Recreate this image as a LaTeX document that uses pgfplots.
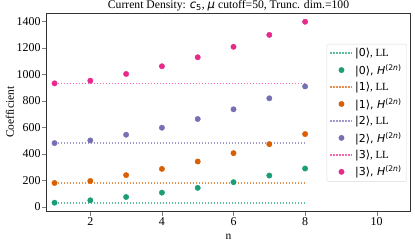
\documentclass[border=0pt]{standalone}
\usepackage{pgfplots}
\pgfplotsset{compat=1.18}
\usepackage{fontspec}
\setmainfont{Liberation Serif}
\newfontfamily\dv{DejaVu Sans}
\definecolor{cg}{HTML}{1B9E77}
\definecolor{co}{HTML}{D95F02}
\definecolor{cp}{HTML}{7570B3}
\definecolor{ck}{HTML}{E7298A}
\tikzset{lldot/.style={draw=#1!70, dash pattern=on 1.3bp off 1.7bp, line width=1.3bp}}
\begin{document}
\begin{tikzpicture}[font=\fontsize{11}{13}\selectfont]
\begin{axis}[
  name=ax,
  scale only axis, width=364.4bp, height=198bp,
  xmin=0.77, xmax=10.95, ymin=-35, ymax=1460,
  xtick={2,4,6,8,10}, xticklabels={2,4,6,8,10},
  ytick={0,200,400,600,800,1000,1200,1400},
  yticklabels={0,200,400,600,800,1000,1200,1400},
  tick align=outside, xtick pos=left, ytick pos=left,
  major tick length=4.5bp,
  tick label style={font=\fontsize{12}{14}\selectfont},
  xticklabel style={inner sep=1bp, yshift=-0.5bp},
  yticklabel style={inner sep=1bp},
  xlabel={n}, ylabel={Coefficient},
  xlabel style={font=\fontsize{11.5}{13}\selectfont, at={(axis description cs:0.5,-0.13)}, anchor=center},
  ylabel style={font=\fontsize{11.5}{13}\selectfont, at={(axis description cs:-0.1,0.5)}, anchor=center},
  every axis title shift=0pt,
  title={Current Density: {\dv\itshape c}\textsubscript{\dv 5}, {\dv\itshape μ} cutoff=50, Trunc. dim.=100},
  title style={font=\fontsize{11.7}{13}\selectfont, at={(axis description cs:0.5,1)}, anchor=base, yshift=4.3bp, inner sep=0pt},
  axis line style={black!80, line width=0.8pt},
  legend cell align=left,
  legend style={at={(0.989,0.845)}, anchor=north east, draw=black!15, rounded corners=2bp,
    font=\fontsize{11}{13}\selectfont, row sep=2.4bp, inner xsep=3bp, inner ysep=2bp},
]
\addplot[lldot=cg, forget plot] coordinates {(1,28) (8,28)};
\addplot[lldot=co, forget plot] coordinates {(1,179) (8,179)};
\addplot[lldot=cp, forget plot] coordinates {(1,480) (8,480)};
\addplot[lldot=ck, forget plot] coordinates {(1,931) (8,931)};
\addplot[only marks, mark=*, mark size=2.7bp, draw=cg, fill=cg, forget plot] coordinates {(1,30) (2,48) (3,73) (4,106) (5,142) (6,185) (7,235) (8,288)};
\addplot[only marks, mark=*, mark size=2.7bp, draw=co, fill=co, forget plot] coordinates {(1,179) (2,194) (3,238) (4,285) (5,341) (6,404) (7,472) (8,548)};
\addplot[only marks, mark=*, mark size=2.7bp, draw=cp, fill=cp, forget plot] coordinates {(1,480) (2,500) (3,543) (4,596) (5,662) (6,735) (7,818) (8,908)};
\addplot[only marks, mark=*, mark size=2.7bp, draw=ck, fill=ck, forget plot] coordinates {(1,931) (2,951) (3,1002) (4,1060) (5,1128) (6,1207) (7,1297) (8,1396)};
\addlegendimage{legend image code/.code={\draw[lldot=cg] (0,0) -- (22bp,0);}}
\addlegendentry{{\dv |0⟩}, LL}
\addlegendimage{legend image code/.code={\fill[cg] (11bp,0) circle (2.7bp);}}
\addlegendentry{{\dv |0⟩, \itshape H}\textsuperscript{\dv (2\itshape n\upshape )}}
\addlegendimage{legend image code/.code={\draw[lldot=co] (0,0) -- (22bp,0);}}
\addlegendentry{{\dv |1⟩}, LL}
\addlegendimage{legend image code/.code={\fill[co] (11bp,0) circle (2.7bp);}}
\addlegendentry{{\dv |1⟩, \itshape H}\textsuperscript{\dv (2\itshape n\upshape )}}
\addlegendimage{legend image code/.code={\draw[lldot=cp] (0,0) -- (22bp,0);}}
\addlegendentry{{\dv |2⟩}, LL}
\addlegendimage{legend image code/.code={\fill[cp] (11bp,0) circle (2.7bp);}}
\addlegendentry{{\dv |2⟩, \itshape H}\textsuperscript{\dv (2\itshape n\upshape )}}
\addlegendimage{legend image code/.code={\draw[lldot=ck] (0,0) -- (22bp,0);}}
\addlegendentry{{\dv |3⟩}, LL}
\addlegendimage{legend image code/.code={\fill[ck] (11bp,0) circle (2.7bp);}}
\addlegendentry{{\dv |3⟩, \itshape H}\textsuperscript{\dv (2\itshape n\upshape )}}
\end{axis}
\pgfresetboundingbox
\path[use as bounding box] ([shift={(-46.3bp,-32.7bp)}]ax.south west) rectangle ([shift={(4.3bp,13.3bp)}]ax.north east);
\end{tikzpicture}
\end{document}
